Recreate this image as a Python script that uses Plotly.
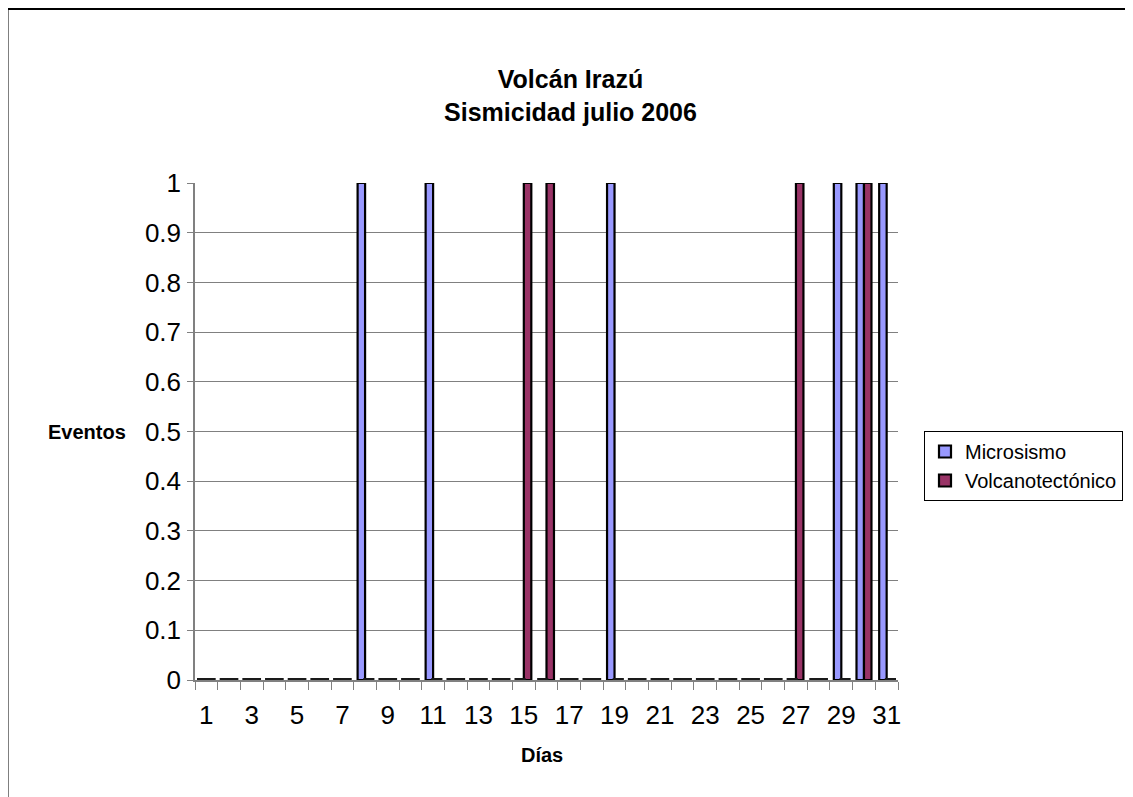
import plotly.graph_objects as go

days = list(range(1, 32))
microsismo = [0, 0, 0, 0, 0, 0, 0, 1, 0, 0, 1, 0, 0, 0, 0, 0, 0, 0, 1, 0,
              0, 0, 0, 0, 0, 0, 0, 0, 1, 1, 1]
volcanotectonico = [0, 0, 0, 0, 0, 0, 0, 0, 0, 0, 0, 0, 0, 0, 1, 1, 0, 0, 0, 0,
                    0, 0, 0, 0, 0, 0, 1, 0, 0, 1, 0]
series_names = ["Microsismo", "Volcanotectónico"]
series_colors = ["#9999FF", "#993366"]
x_tick_vals = list(range(1, 32, 2))
y_tick_vals = [round(i * 0.1, 1) for i in range(11)]

FONT = "Liberation Sans, Arial, sans-serif"

fig = go.Figure()
for name, vals, col, grp in zip(series_names, [microsismo, volcanotectonico], series_colors, ["a", "b"]):
    fig.add_trace(go.Bar(
        x=days, y=vals, name=name, offsetgroup=grp,
        marker=dict(color=col, line=dict(color="black", width=2.2)),
    ))
# zero-height bars drawn as flat dark slabs on the floor
for name, vals, grp in zip(series_names, [microsismo, volcanotectonico], ["a", "b"]):
    zx = [d for d, v in zip(days, vals) if v == 0]
    fig.add_trace(go.Scatter(
        x=zx, y=[v for v in vals if v == 0], mode="markers", offsetgroup=grp,
        showlegend=False, hoverinfo="skip", cliponaxis=False,
        marker=dict(symbol="line-ew", size=8, line=dict(color="#1a1a1a", width=4)),
    ))

# page body has an 8px margin; work in screenshot pixel coordinates
OFF = 8
W, H = 1133 - OFF, 797 - OFF
L = 195 - OFF
T = 183 - OFF
R = W - (898 - OFF)
B = H - (680 - OFF)
pw, ph = W - L - R, H - T - B

def px_x(p):
    return (p - OFF - L) / pw

def px_y(p):
    return (H - B - (p - OFF)) / ph

fig.update_layout(
    width=W, height=H,
    margin=dict(l=L, r=R, t=T, b=B, autoexpand=False),
    paper_bgcolor="white", plot_bgcolor="white",
    barmode="group", bargap=0.34, bargroupgap=0,
    scattermode="group", scattergap=0.34,
    font=dict(family=FONT, color="black"),
    title=dict(text="<b>Volcán Irazú<br>Sismicidad julio 2006</b>",
               x=0.5, xanchor="center", y=(H - 80) / H, yanchor="middle",
               yref="container", font=dict(size=25, family=FONT)),
    xaxis=dict(range=[0.5, 31.5], tickvals=x_tick_vals, ticks="",
               tickfont=dict(size=26), ticklabelstandoff=11, automargin=False,
               showline=True, linecolor="#808080", linewidth=2,
               showgrid=False, zeroline=False,
               minor=dict(tick0=0.5, dtick=1, ticks="outside", ticklen=8,
                          tickcolor="#808080", showgrid=False)),
    yaxis=dict(range=[0, 1], tickvals=y_tick_vals,
               ticktext=[("%g" % v) for v in y_tick_vals],
               ticks="outside", ticklen=6, tickcolor="#808080",
               tickfont=dict(size=26), ticklabelstandoff=1, automargin=False,
               showline=True, linecolor="#808080", linewidth=1.5,
               showgrid=True, gridcolor="#808080", gridwidth=1, zeroline=False),
    legend=dict(xref="container", yref="container",
                x=(924 - OFF) / W, y=1 - (431 - OFF) / H, xanchor="left", yanchor="top",
                bordercolor="black", borderwidth=1, bgcolor="white",
                font=dict(size=20, family=FONT)),
    annotations=[
        dict(text="<b>Eventos</b>", x=px_x(87), y=px_y(432), xref="paper", yref="paper",
             showarrow=False, font=dict(size=20, family=FONT), xanchor="center", yanchor="middle"),
        dict(text="<b>Días</b>", x=px_x(542), y=px_y(755), xref="paper", yref="paper",
             showarrow=False, font=dict(size=20, family=FONT), xanchor="center", yanchor="middle"),
    ],
    shapes=[dict(type="rect", xref="paper", yref="paper",
                 x0=px_x(7.5), x1=px_x(1160), y0=px_y(820), y1=px_y(9),
                 line=dict(color="black", width=2), fillcolor="rgba(0,0,0,0)", layer="below")],
)

fig.write_html("out.html")
